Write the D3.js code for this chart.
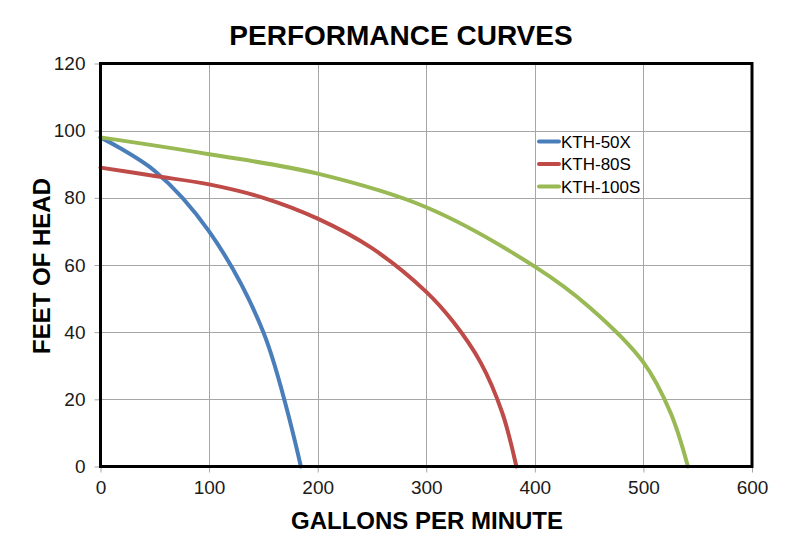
<!DOCTYPE html>
<html><head><meta charset="utf-8">
<script src="https://cdn.jsdelivr.net/npm/d3@7"></script>
<style>body{margin:0;background:#fff}svg{display:block;font-family:Arial,"Liberation Sans",sans-serif}</style>
</head><body><svg id="c" width="800" height="552"></svg>
<script>
const title = "PERFORMANCE CURVES";
const xLabel = "GALLONS PER MINUTE";
const yLabel = "FEET OF HEAD";
const xTicks = [0,100,200,300,400,500,600];
const yTicks = [0,20,40,60,80,100,120];
const seriesNames = ["KTH-50X","KTH-80S","KTH-100S"];
const seriesColors = ["#4A7EBB","#BE4B48","#98B954"];
const kth50x = [[0,98],[50,88],[100,70],[150,40],[184.5,0]];
const kth80s = [[0,89],[50,86.5],[100,84],[150,80],[200,73.8],[250,65],[300,52],[325,43],[350,31],[370,16],[383,0]];
const kth100s = [[0,98],[100,93],[200,87.2],[300,77.2],[400,59.5],[450,47.5],[500,31],[525,16],[541,0]];
const seriesData = [kth50x,kth80s,kth100s];

const svg = d3.select("#c");
const L=100.5, R=752, T=63.5, B=466.5;
const x = d3.scaleLinear().domain([0,600]).range([L,R]);
const y = d3.scaleLinear().domain([0,120]).range([B,T]);

// gridlines
svg.append("g").selectAll("line").data(xTicks.slice(1,-1)).join("line")
  .attr("x1",d=>Math.round(x(d))+0.5).attr("x2",d=>Math.round(x(d))+0.5).attr("y1",T).attr("y2",B)
  .attr("stroke","#a6a6a6").attr("stroke-width",1);
svg.append("g").selectAll("line").data(yTicks.slice(1,-1)).join("line")
  .attr("y1",d=>Math.round(y(d))+0.5).attr("y2",d=>Math.round(y(d))+0.5).attr("x1",L).attr("x2",R)
  .attr("stroke","#a6a6a6").attr("stroke-width",1);

// axes
const xAxis = svg.append("g").attr("transform",`translate(0,${B})`)
  .call(d3.axisBottom(x).tickValues(xTicks).tickSize(6).tickPadding(8).tickFormat(d3.format("d")));
const yAxis = svg.append("g").attr("transform",`translate(${L},0)`)
  .call(d3.axisLeft(y).tickValues(yTicks).tickSize(6).tickPadding(9).tickFormat(d3.format("d")));
[xAxis,yAxis].forEach(a=>{
  a.select(".domain").remove();
  a.selectAll(".tick line").attr("stroke","#a6a6a6");
  a.selectAll(".tick text").attr("fill","#1a1a1a").style("font-size","19px").style("font-family","Arial, 'Liberation Sans', sans-serif");
});

// series
const line = d3.line().x(d=>x(d[0])).y(d=>y(d[1])).curve(d3.curveCatmullRom.alpha(0.5));
svg.append("g").selectAll("path").data(seriesData).join("path")
  .attr("d",line).attr("fill","none").attr("stroke",(d,i)=>seriesColors[i])
  .attr("stroke-width",4).attr("stroke-linecap","round");

// frame
svg.append("rect").attr("x",L).attr("y",T).attr("width",R-L).attr("height",B-T)
  .attr("fill","none").attr("stroke","#000").attr("stroke-width",3);

// legend
const lg = svg.append("g").selectAll("g").data(seriesNames).join("g")
  .attr("transform",(d,i)=>`translate(539,${141.5+i*22.5})`);
lg.append("line").attr("x1",0).attr("x2",20).attr("stroke",(d,i)=>seriesColors[i]).attr("stroke-width",4).attr("stroke-linecap","round");
lg.append("text").attr("x",22).attr("dy","0.36em").text(d=>d).style("font-size","17px").attr("fill","#000");

// titles
svg.append("text").attr("x",401).attr("y",45).attr("text-anchor","middle")
  .style("font-size","28px").style("font-weight","bold").text(title);
svg.append("text").attr("x",427).attr("y",529).attr("text-anchor","middle")
  .style("font-size","24px").style("font-weight","bold").text(xLabel);
svg.append("text").attr("transform","translate(50,266) rotate(-90)").attr("text-anchor","middle")
  .style("font-size","24px").style("font-weight","bold").text(yLabel);
</script></body></html>
